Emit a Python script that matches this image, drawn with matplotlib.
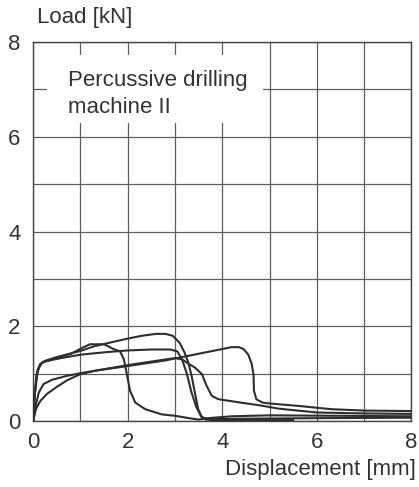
import matplotlib
matplotlib.use("Agg")
import matplotlib.pyplot as plt
from matplotlib.patches import Rectangle

plt.rcParams['font.family'] = ['Liberation Sans', 'DejaVu Sans']

# load-displacement curves (x in mm, y in kN)
a_x = [0, 0.03, 0.08, 0.15, 0.25, 0.5, 1.0, 1.3, 1.6, 2.0, 2.3, 2.6, 2.8, 2.95, 3.1, 3.2, 3.28, 3.35, 3.42, 3.49, 3.57, 3.7, 4.5, 6, 8]
a_y = [0, 0.5, 1.0, 1.2, 1.27, 1.35, 1.48, 1.58, 1.65, 1.74, 1.8, 1.84, 1.84, 1.8, 1.65, 1.45, 1.24, 0.96, 0.6, 0.25, 0.08, 0.04, 0.05, 0.06, 0.07]

b_x = [0, 0.03, 0.08, 0.15, 0.25, 0.6, 1.0, 1.5, 2.0, 2.5, 2.9, 3.05, 3.15, 3.25, 3.35, 3.45, 3.55, 3.65, 3.8, 4.5, 5.5]
b_y = [0, 0.55, 1.0, 1.2, 1.26, 1.33, 1.40, 1.45, 1.49, 1.51, 1.51, 1.47, 1.3, 1.0, 0.6, 0.3, 0.1, 0.03, 0.02, 0.02, 0.02]

c_x = [0, 0.04, 0.1, 0.2, 0.4, 0.8, 1.05, 1.2, 1.5, 1.7, 1.84, 1.92, 1.98, 2.05, 2.16, 2.37, 2.72, 3.0, 3.3, 3.5, 3.7, 4.2, 5.0, 6.5, 8]
c_y = [0, 0.6, 1.1, 1.24, 1.3, 1.42, 1.55, 1.62, 1.62, 1.52, 1.47, 1.3, 1.0, 0.64, 0.39, 0.25, 0.14, 0.11, 0.06, 0.03, 0.06, 0.1, 0.12, 0.11, 0.1]

d1_x = [0, 0.05, 0.12, 0.22, 0.4, 0.7, 1.0, 1.3, 2.0, 2.8, 3.5, 4.0, 4.2, 4.35, 4.45, 4.55, 4.62, 4.66, 4.67, 4.72, 4.85, 5.0, 5.6, 6.3, 7.0, 8]
d1_y = [0, 0.3, 0.6, 0.78, 0.87, 0.95, 1.01, 1.06, 1.16, 1.28, 1.42, 1.52, 1.56, 1.56, 1.52, 1.4, 1.21, 0.99, 0.64, 0.46, 0.39, 0.37, 0.32, 0.25, 0.22, 0.21]

d2_x = [0, 0.06, 0.15, 0.29, 0.5, 0.72, 1.0, 1.3, 2.0, 2.6, 3.0, 3.15, 3.3, 3.42, 3.57, 3.67, 3.78, 3.92, 4.38, 4.8, 5.2, 6.0, 7.0, 8]
d2_y = [0, 0.25, 0.42, 0.57, 0.72, 0.86, 0.99, 1.06, 1.18, 1.27, 1.33, 1.3, 1.2, 1.13, 0.99, 0.74, 0.53, 0.46, 0.39, 0.33, 0.26, 0.18, 0.16, 0.15]

ticks = [0, 2, 4, 6, 8]

fig = plt.figure(figsize=(4.19, 4.87), dpi=100)
ax = fig.add_axes([0.079, 0.1355, 0.903, 0.778])

for xs, ys in [(a_x, a_y), (b_x, b_y), (c_x, c_y), (d1_x, d1_y), (d2_x, d2_y)]:
    ax.plot(xs, ys, color='#2e2e2e', lw=1.5, zorder=3)

ax.set_xlim(0, 8)
ax.set_ylim(0, 8)
ax.set_xticks(range(9))
ax.set_yticks(range(9))
ax.grid(True, color='#5e5e5e', lw=0.9)
ax.set_axisbelow(True)
ax.set_xticklabels([str(t) if t in ticks else '' for t in range(9)])
ax.set_yticklabels([str(t) if t in ticks else '' for t in range(9)])
ax.tick_params(length=0, labelsize=16, colors='#333333')
ax.tick_params(axis='x', pad=8)
ax.tick_params(axis='y', pad=9)
for s in ax.spines.values():
    s.set_color('#444444')
    s.set_linewidth(1.0)

# white label box over the grid
ax.add_patch(Rectangle((0.3, 6.3), 4.57, 1.42, facecolor='white', edgecolor='none', zorder=1))
ax.text(0.74, 6.9, 'Percussive drilling\nmachine II', fontsize=16, color='#333333',
        va='center', ha='left', linespacing=1.4, zorder=2)

fig.text(37 / 419, 1 - 17 / 487, 'Load [kN]', fontsize=16, color='#333333', va='center', ha='left')
fig.text(416 / 419, 1 - 470 / 487, 'Displacement [mm]', fontsize=16, color='#333333', va='center', ha='right')

fig.savefig('out.png', dpi=100)
